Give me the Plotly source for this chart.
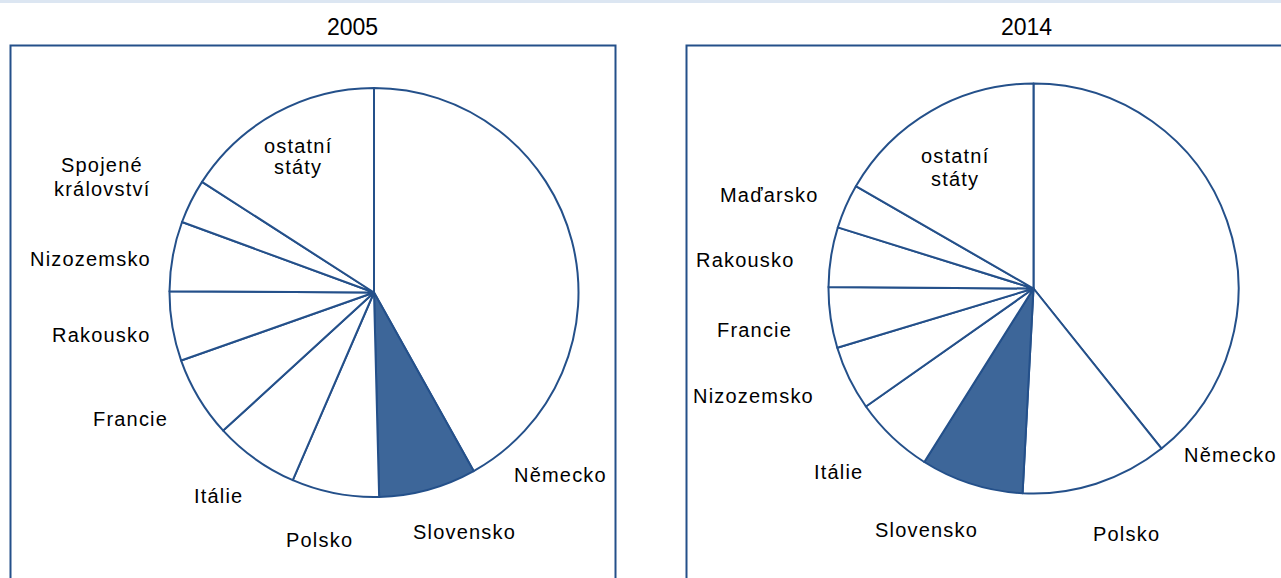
import plotly.graph_objects as go

W, H = 1281, 578

labels_2005 = ["Německo", "Slovensko", "Polsko", "Itálie", "Francie", "Rakousko",
               "Nizozemsko", "Spojené království", "ostatní státy"]
values_2005 = [41.9, 7.7, 6.9, 6.7, 6.4, 5.5, 5.5, 3.5, 15.9]

labels_2014 = ["Německo", "Polsko", "Slovensko", "Itálie", "Nizozemsko", "Francie",
               "Rakousko", "Maďarsko", "ostatní státy"]
values_2014 = [39.3, 11.6, 8.1, 6.3, 5.1, 4.8, 4.7, 3.5, 16.7]

titles = ["2005", "2014"]

LINE = "#24508a"
FILL_SK = "#3d6699"
FONT = "Liberation Sans"


def px_x(v):
    return v / W


def px_y(v):
    return 1 - v / H


def colors(labels):
    return [FILL_SK if l == "Slovensko" else "white" for l in labels]


fig = go.Figure()

pie_boxes = [
    (labels_2005, values_2005, (169.5, 578.5), (88, 497)),
    (labels_2014, values_2014, (828.5, 1238.5), (83.5, 493.5)),
]
for labs, vals, (x0, x1), (y0, y1) in pie_boxes:
    fig.add_trace(go.Pie(
        labels=labs, values=vals, sort=False, direction="clockwise", rotation=0,
        marker=dict(colors=colors(labs), line=dict(color=LINE, width=2)),
        textinfo="none", hoverinfo="label+percent",
        domain=dict(x=[px_x(x0), px_x(x1)], y=[px_y(y1), px_y(y0)]),
        showlegend=False,
    ))

shapes = [
    dict(type="rect", xref="paper", yref="paper", x0=0, x1=1, y0=px_y(3), y1=1,
         fillcolor="#dce6f2", line=dict(width=0), layer="below"),
    dict(type="rect", xref="paper", yref="paper", x0=px_x(10.5), x1=px_x(615.5),
         y0=px_y(590), y1=px_y(45.5), line=dict(color=LINE, width=2), layer="below"),
    dict(type="rect", xref="paper", yref="paper", x0=px_x(686.5), x1=px_x(1300),
         y0=px_y(590), y1=px_y(45.5), line=dict(color=LINE, width=2), layer="below"),
]

# label annotations: (text, x_px, y_px)
label_pos = [
    ("ostatní", 298, 146),
    ("státy", 298, 167),
    ("Spojené", 102, 165),
    ("království", 102, 189),
    ("Nizozemsko", 90, 259),
    ("Rakousko", 101, 335),
    ("Francie", 130, 419),
    ("Itálie", 218, 496),
    ("Polsko", 319, 540),
    ("Slovensko", 464, 532),
    ("Německo", 560, 475),
    ("ostatní", 955, 156),
    ("státy", 955, 179),
    ("Maďarsko", 769, 195),
    ("Rakousko", 745, 260),
    ("Francie", 754, 330),
    ("Nizozemsko", 753, 396),
    ("Itálie", 839, 472),
    ("Slovensko", 926, 530),
    ("Polsko", 1126, 534),
    ("Německo", 1230, 455),
]
annotations = []
for t, x, y in label_pos:
    annotations.append(dict(text='<span style="letter-spacing:1.2px">' + t + '</span>',
                            x=px_x(x), y=px_y(y), xref="paper", yref="paper",
                            showarrow=False, xanchor="center", yanchor="middle",
                            font=dict(family=FONT, size=20, color="#000000")))
for t, x in zip(titles, [352, 1026]):
    annotations.append(dict(text=t, x=px_x(x), y=px_y(27), xref="paper", yref="paper",
                            showarrow=False, xanchor="center", yanchor="middle",
                            font=dict(family=FONT, size=23, color="#000000")))

fig.update_layout(
    width=W, height=H, margin=dict(l=0, r=0, t=0, b=0),
    paper_bgcolor="white", plot_bgcolor="white",
    shapes=shapes, annotations=annotations,
)

fig.write_html("out.html", config={"displayModeBar": False},
               post_script="document.body.style.margin='0px';")
